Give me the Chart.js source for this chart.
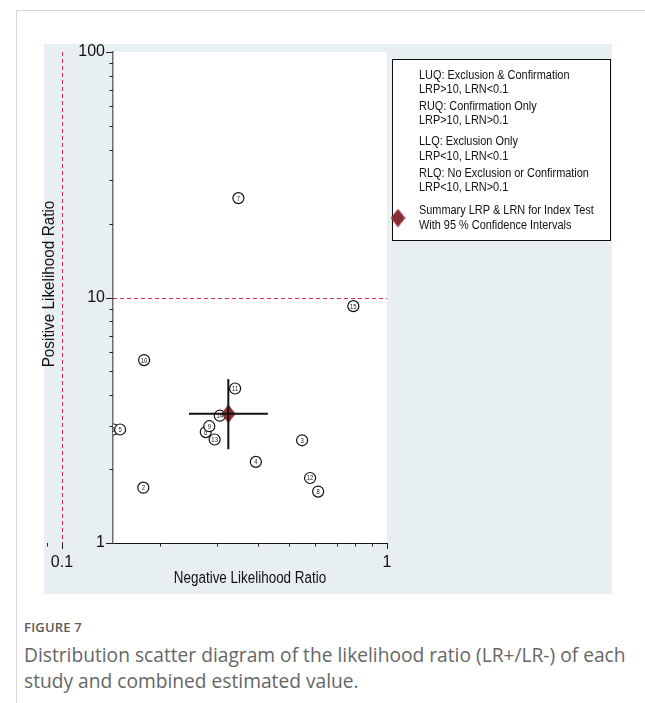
<!DOCTYPE html>
<html>
<head>
<meta charset="utf-8">
<script src="https://cdn.jsdelivr.net/npm/chart.js@4/dist/chart.umd.min.js"></script>
<style>
html,body{margin:0;padding:0;background:#fff;}
body{width:645px;height:703px;position:relative;overflow:hidden;}
#rule-top{position:absolute;left:16px;top:10px;width:629px;height:1px;background:#d6d6d6;}
#rule-left{position:absolute;left:16px;top:10px;width:1px;height:693px;background:#d6d6d6;}
#chart{position:absolute;left:0;top:0;}
#caption{position:absolute;left:24px;top:618px;font-family:"Open Sans",sans-serif;color:#666;}
#caption .fig{font-size:13px;font-weight:600;line-height:18px;letter-spacing:0.2px;color:#5a5a5a;}
#caption .txt{font-size:19.2px;line-height:26px;margin-top:6px;}
</style>
</head>
<body>
<div id="rule-top"></div>
<div id="rule-left"></div>
<canvas id="chart" width="645" height="600"></canvas>
<div id="caption">
  <div class="fig">FIGURE 7</div>
  <div class="txt">Distribution scatter diagram of the likelihood ratio (LR+/LR-) of each<br>study and combined estimated value.</div>
</div>
<script>
// Per-study likelihood ratios
const studyIds   = [1, 2, 3, 4, 5, 6, 7, 8, 9, 10, 11, 12, 13, 14, 15];
const negativeLR = [0.144, 0.178, 0.548, 0.395, 0.151, 0.277, 0.349, 0.614, 0.284, 0.179, 0.341, 0.580, 0.295, 0.306, 0.788];
const positiveLR = [2.90, 1.68, 2.62, 2.14, 2.90, 2.83, 25.4, 1.62, 2.99, 5.56, 4.26, 1.84, 2.64, 3.30, 9.22];

// Pooled estimate with 95% confidence intervals
const summaryLRN = 0.325;
const summaryLRP = 3.36;
const summaryLRNci = [0.246, 0.430];
const summaryLRPci = [2.41, 4.65];

// Quadrant thresholds
const thresholdLRN = 0.1;
const thresholdLRP = 10;

// Axis ranges and ticks
const xAxisMin = 0.1436;
const xAxisMax = 1;
const yAxisMin = 1;
const yAxisMax = 100;
const xTickValues = [0.09, 0.1, 0.2, 0.3, 0.4, 0.5, 0.6, 0.7, 0.8, 0.9, 1];
const xTickLabels = ['', '0.1', '', '', '', '', '', '', '', '', '1'];
const yTickValues = [1, 2, 3, 4, 5, 6, 7, 8, 9, 10, 20, 30, 40, 50, 60, 70, 80, 90, 100];
const yTickLabels = ['1', '', '', '', '', '', '', '', '', '10', '', '', '', '', '', '', '', '', '100'];

const xTitle = 'Negative Likelihood Ratio';
const yTitle = 'Positive Likelihood Ratio';

// Key text, grouped as it is printed
const keyLines = [
  'LUQ: Exclusion & Confirmation',
  'LRP>10, LRN<0.1',
  'RUQ: Confirmation Only',
  'LRP>10, LRN>0.1',
  'LLQ: Exclusion Only',
  'LRP<10, LRN<0.1',
  'RLQ: No Exclusion or Confirmation',
  'LRP<10, LRN>0.1',
  'Summary LRP & LRN for Index Test',
  'With 95 % Confidence Intervals'
];
const keyLineY = [75, 89, 106.5, 120.5, 141.5, 156, 173, 187.5, 210.5, 225];

// ---------- fonts ----------
function fontInstalled(name) {
  const c = document.createElement('canvas').getContext('2d');
  const s = 'Exclusion & Confirmation 0123456789';
  c.font = '40px monospace';
  const a = c.measureText(s).width;
  c.font = '40px "' + name + '", monospace';
  const b = c.measureText(s).width;
  return Math.abs(a - b) > 0.5;
}
const NARROW = fontInstalled('Liberation Sans Narrow');
const FAMILY = NARROW ? '"Liberation Sans Narrow", "Arial Narrow", sans-serif' : '"Liberation Sans", Arial, sans-serif';
// horizontal squeeze used for plugin-drawn text when no narrow face is available
const SQUEEZE = NARROW ? 1 : 0.84;

Chart.defaults.font.family = FAMILY;
Chart.defaults.color = '#111';

const PANEL = '#e8eff2';
const REF_RED = '#d8304c';
const DIAMOND = '#8c2d36';

function narrowText(ctx, text, x, y, size, align, rotation, squeeze) {
  ctx.save();
  ctx.translate(x, y);
  if (rotation) ctx.rotate(rotation);
  ctx.scale(squeeze || SQUEEZE, 1);
  ctx.font = size + 'px ' + FAMILY;
  ctx.textAlign = align;
  ctx.textBaseline = 'middle';
  ctx.fillText(text, 0, 0);
  ctx.restore();
}

// diamond marker used for the pooled estimate
const diamond = document.createElement('canvas');
diamond.width = 15; diamond.height = 19;
(function () {
  const d = diamond.getContext('2d');
  d.fillStyle = DIAMOND;
  d.beginPath();
  d.moveTo(7.5, 0.3); d.lineTo(14.8, 9.5); d.lineTo(7.5, 18.7); d.lineTo(0.2, 9.5);
  d.closePath(); d.fill();
})();

const studyPoints = studyIds.map((id, i) => ({ x: negativeLR[i], y: positiveLR[i] }));

// backdrop: grey panel and white plot region
const backdrop = {
  id: 'backdrop',
  beforeDraw(chart) {
    const { ctx, chartArea: a } = chart;
    ctx.save();
    ctx.fillStyle = PANEL;
    ctx.fillRect(44, 44, 568, 550);
    ctx.fillStyle = '#fff';
    ctx.fillRect(a.left, a.top, a.right - a.left, a.bottom - a.top);
    ctx.restore();
  }
};

// reference lines, tick marks and axis titles
const guides = {
  id: 'guides',
  beforeDatasetsDraw(chart) {
    const { ctx, chartArea: a, scales: { x, y } } = chart;
    ctx.save();
    ctx.strokeStyle = REF_RED;
    ctx.lineWidth = 1;
    ctx.setLineDash([4, 3]);
    const xr = Math.round(x.getPixelForValue(thresholdLRN)) + 0.5;
    ctx.beginPath(); ctx.moveTo(xr, a.top); ctx.lineTo(xr, a.bottom); ctx.stroke();
    const yr = Math.round(y.getPixelForValue(thresholdLRP)) + 0.5;
    ctx.beginPath(); ctx.moveTo(a.left, yr); ctx.lineTo(a.right, yr); ctx.stroke();
    ctx.setLineDash([]);

    const isMajor = v => Math.abs(Math.log10(v) - Math.round(Math.log10(v))) < 1e-9;
    ctx.strokeStyle = '#222';
    ctx.lineWidth = 1;
    x.ticks.forEach(t => {
      const px = Math.round(x.getPixelForValue(t.value)) + 0.5;
      const len = isMajor(t.value) ? 6 : 3.5;
      ctx.beginPath(); ctx.moveTo(px, a.bottom); ctx.lineTo(px, a.bottom + len); ctx.stroke();
    });
    y.ticks.forEach(t => {
      const py = Math.round(y.getPixelForValue(t.value)) + 0.5;
      const len = isMajor(t.value) ? 7 : 3.5;
      ctx.beginPath(); ctx.moveTo(a.left, py); ctx.lineTo(a.left - len, py); ctx.stroke();
    });

    ctx.fillStyle = '#111';
    narrowText(ctx, xTitle, (a.left + a.right) / 2, 579, 16, 'center', 0);
    narrowText(ctx, yTitle, 49, 284, 17, 'center', -Math.PI / 2, NARROW ? 1 : 0.9);
    ctx.restore();
  },
  afterDatasetDraw(chart, args) {
    if (chart.data.datasets[args.index].label !== 'Studies') return;
    const { ctx } = chart;
    ctx.save();
    ctx.fillStyle = '#222';
    args.meta.data.forEach((pt, i) => {
      narrowText(ctx, String(studyIds[i]), pt.x, pt.y + 0.5, 7, 'center', 0);
    });
    ctx.restore();
  }
};

// quadrant key box
const keyBox = {
  id: 'keyBox',
  afterDraw(chart) {
    const { ctx } = chart;
    ctx.save();
    ctx.fillStyle = '#fff';
    ctx.fillRect(392, 59, 219, 181);
    ctx.strokeStyle = '#111';
    ctx.lineWidth = 1;
    ctx.strokeRect(392.5, 59.5, 218, 181);
    ctx.fillStyle = '#111';
    keyLines.forEach((t, i) => narrowText(ctx, t, 419, keyLineY[i], 13, 'left', 0));
    ctx.drawImage(diamond, 398 - 7.5, 218 - 9.5);
    ctx.restore();
  }
};

new Chart(document.getElementById('chart'), {
  type: 'scatter',
  data: {
    datasets: [
      {
        label: 'CI LRN', type: 'line',
        data: summaryLRNci.map(v => ({ x: v, y: summaryLRP })),
        borderColor: '#111', borderWidth: 2, pointRadius: 0, fill: false
      },
      {
        label: 'CI LRP', type: 'line',
        data: summaryLRPci.map(v => ({ x: summaryLRN, y: v })),
        borderColor: '#111', borderWidth: 2, pointRadius: 0, fill: false
      },
      {
        label: 'Summary',
        data: [{ x: summaryLRN, y: summaryLRP }],
        pointStyle: diamond, pointRadius: 9, borderWidth: 0
      },
      {
        label: 'Studies',
        data: studyPoints,
        pointStyle: 'circle', pointRadius: 5.5,
        backgroundColor: '#fff', borderColor: '#111', borderWidth: 1.2
      }
    ]
  },
  options: {
    responsive: false,
    animation: false,
    events: [],
    layout: { padding: { left: 44, top: 52, right: 258, bottom: 6 } },
    plugins: { legend: { display: false }, tooltip: { enabled: false } },
    scales: {
      x: {
        type: 'logarithmic', position: 'bottom',
        min: xAxisMin, max: xAxisMax,
        afterBuildTicks: s => { s.ticks = xTickValues.map(v => ({ value: v })); },
        afterFit: s => { s.height = 51; },
        grid: { display: false, drawTicks: true, tickLength: 6 },
        border: { display: true, color: '#111', width: 1 },
        ticks: {
          autoSkip: false, maxRotation: 0, minRotation: 0, padding: 4,
          color: '#111', font: { size: 16 },
          callback: (v, i) => xTickLabels[i]
        },
        title: { display: false }
      },
      y: {
        type: 'logarithmic', position: 'left',
        min: yAxisMin, max: yAxisMax,
        afterBuildTicks: s => { s.ticks = yTickValues.map(v => ({ value: v })); },
        afterFit: s => { s.width = 69; },
        grid: { display: false, drawTicks: true, tickLength: 7 },
        border: { display: true, color: '#6f6f6f', width: 1.5 },
        ticks: {
          autoSkip: false, padding: 1,
          color: '#111', font: { size: 16 },
          callback: (v, i) => yTickLabels[i]
        },
        title: { display: false }
      }
    }
  },
  plugins: [backdrop, guides, keyBox]
});
</script>
</body>
</html>
